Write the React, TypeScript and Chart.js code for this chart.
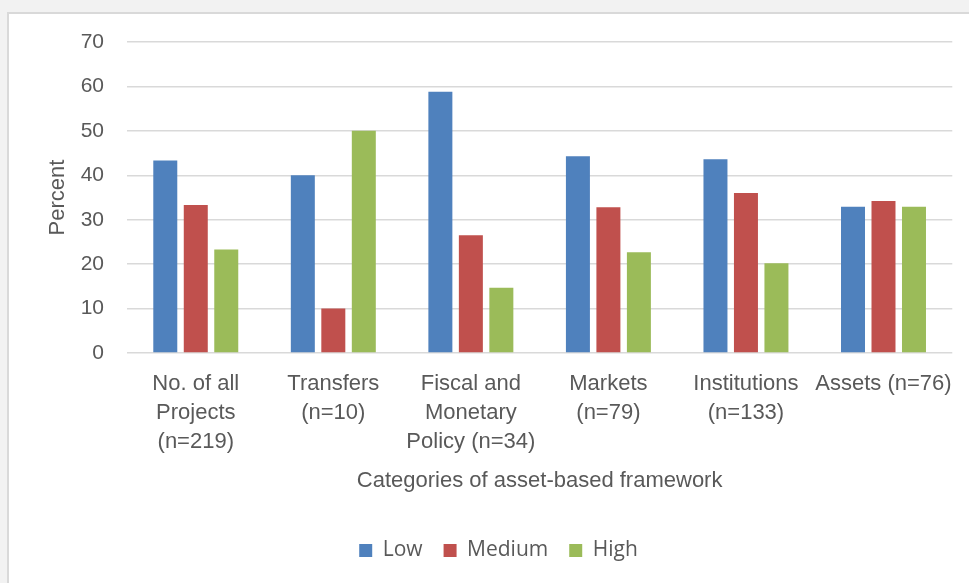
import React, { useEffect, useRef } from "react";
import { Chart, registerables } from "chart.js";

Chart.register(...registerables);

const categories: string[][] = [
  ["No. of all", "Projects", "(n=219)"],
  ["Transfers", "(n=10)"],
  ["Fiscal and", "Monetary", "Policy (n=34)"],
  ["Markets", "(n=79)"],
  ["Institutions", "(n=133)"],
  ["Assets (n=76)"],
];
const lowValues = [43.3, 40.0, 58.8, 44.3, 43.6, 32.9];
const mediumValues = [33.3, 10.0, 26.5, 32.8, 36.0, 34.2];
const highValues = [23.3, 50.0, 14.7, 22.7, 20.2, 32.9];
const seriesNames = ["Low", "Medium", "High"];
const yTicks = { min: 0, max: 70, step: 10 };
const xTitle = "Categories of asset-based framework";
const yTitle = "Percent";

const TEXT = "#595959";
const AXIS_FONT = "'Liberation Sans', Arial, sans-serif";

export default function App() {
  const canvasRef = useRef<HTMLCanvasElement | null>(null);

  useEffect(() => {
    const canvas = canvasRef.current;
    if (!canvas) return;
    const chart = new Chart(canvas, {
      type: "bar",
      data: {
        labels: categories,
        datasets: [
          { label: seriesNames[0], data: lowValues, backgroundColor: "#4F81BD" },
          { label: seriesNames[1], data: mediumValues, backgroundColor: "#C0504D" },
          { label: seriesNames[2], data: highValues, backgroundColor: "#9BBB59" },
        ],
      },
      options: {
        responsive: false,
        animation: false,
        events: [],
        layout: { padding: { top: 42, left: 44, right: 16, bottom: 12 } },
        datasets: {
          bar: { categoryPercentage: 0.665, barPercentage: 0.787 },
        },
        plugins: {
          tooltip: { enabled: false },
          legend: {
            position: "bottom",
            labels: {
              boxWidth: 13,
              boxHeight: 13,
              padding: 21,
              color: TEXT,
              font: { family: "'Open Sans', sans-serif", size: 21 },
            },
          },
        },
        scales: {
          x: {
            grid: { display: false, drawTicks: false },
            border: { display: false },
            ticks: {
              color: TEXT,
              padding: 16,
              maxRotation: 0,
              autoSkip: false,
              font: { family: AXIS_FONT, size: 22, lineHeight: 1.32 },
            },
            title: {
              display: true,
              text: xTitle,
              color: TEXT,
              padding: { top: 12, bottom: 25 },
              font: { family: AXIS_FONT, size: 22, lineHeight: 1.2 },
            },
            afterFit: (scale: any) => {
              scale.height = 166;
            },
          },
          y: {
            min: yTicks.min,
            max: yTicks.max,
            grid: { color: "#d9d9d9", lineWidth: 1.5, drawTicks: false },
            border: { display: false },
            ticks: {
              stepSize: yTicks.step,
              color: TEXT,
              padding: 23,
              font: { family: AXIS_FONT, size: 21 },
            },
            title: {
              display: true,
              text: yTitle,
              color: TEXT,
              padding: { top: 1, bottom: 10 },
              font: { family: AXIS_FONT, size: 22, lineHeight: 1.2 },
            },
            afterFit: (scale: any) => {
              scale.width = 83;
            },
          },
        },
      },
    });
    return () => chart.destroy();
  }, []);

  return (
    <div style={{ position: "fixed", left: 0, top: 0, width: 969, height: 583, background: "#f2f2f2", overflow: "hidden" }}>
      <div
        style={{
          position: "absolute",
          left: 7,
          top: 12,
          right: 0,
          bottom: 0,
          background: "#ffffff",
          borderLeft: "2px solid #d9d9d9",
          borderTop: "2px solid #d9d9d9",
        }}
      />
      <canvas
        ref={canvasRef}
        width={969}
        height={583}
        style={{ position: "absolute", left: 0, top: 0, width: 969, height: 583 }}
      />
    </div>
  );
}
